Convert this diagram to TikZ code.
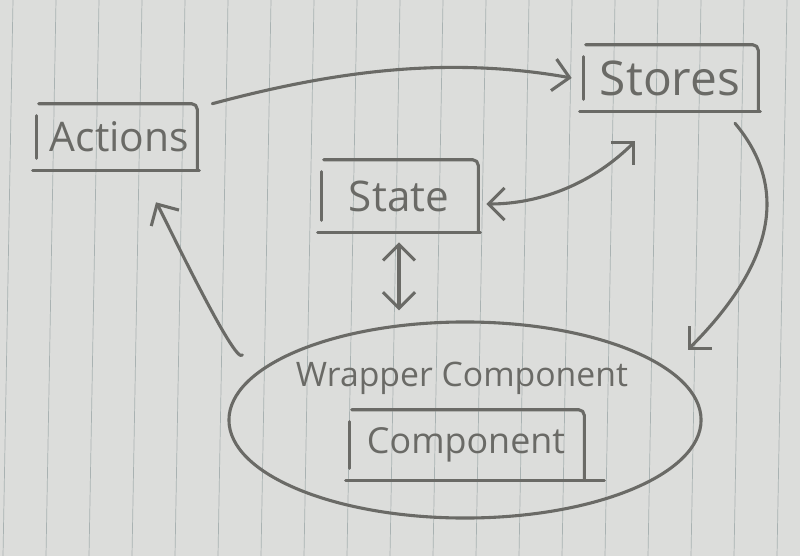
\documentclass[tikz,border=0pt]{standalone}
\usepackage{fontspec}
\setmainfont{Open Sans}
\usepackage{tikz}
\usetikzlibrary{arrows.meta,shapes.geometric}
\definecolor{paper}{HTML}{DCDDDB}
\definecolor{ruling}{HTML}{A9B2B2}
\definecolor{pencil}{HTML}{6A6A66}

\newcommand\sketchbox[1]{%
  \draw[pencil line,rounded corners=4pt]
    ([shift={(4,0)}]#1.north west) -- (#1.north east) -- (#1.south east);
  \draw[pencil line] ([shift={(-2,0)}]#1.south west) -- ([shift={(2,0)}]#1.south east);
  \draw[pencil line] ([shift={(2,12)}]#1.north west) -- ([shift={(2,-12)}]#1.south west);
}

\begin{document}
\begin{tikzpicture}[
    x=0.025cm, y=-0.025cm,
    pencil line/.style={draw=pencil,line width=2.2pt,line cap=round,line join=round},
    label box/.style={text=pencil,inner sep=0pt,minimum height=1.65cm},
    flow/.style={pencil line,-{Straight Barb[length=4mm,width=8mm,line width=2.2pt]}},
    both/.style={pencil line,{Straight Barb[length=4mm,width=8mm,line width=2.2pt]}-{Straight Barb[length=4mm,width=8mm,line width=2.2pt]}},
    wrapper/.style={ellipse,pencil line,minimum width=11.8cm,minimum height=4.9cm,inner sep=0pt}
  ]
    % lined paper
    \useasboundingbox (0,0) rectangle (800,556);
    \fill[paper] (0,0) rectangle (800,556);
    \begin{scope}
      \clip (0,0) rectangle (800,556);
      \foreach \x in {13,56,...,830}
        \draw[ruling,line width=0.5pt] (\x,0) -- ({\x-10},556);
    \end{scope}

    \node[label box,minimum width=4.05cm,font=\fontsize{29}{32}\selectfont] (actions) at (116,137) {\hspace{5pt}Actions};
    \node[label box,minimum width=4.4cm,font=\fontsize{34}{38}\selectfont] (stores) at (670,78) {Stores};
    \node[label box,minimum width=3.95cm,minimum height=1.8cm,font=\fontsize{30}{34}\selectfont] (state) at (399,196) {State};
    \sketchbox{actions}
    \sketchbox{stores}
    \sketchbox{state}

    \node[wrapper] (wrap) at (465,420) {};
    \node[text=pencil,font=\fontsize{24}{28}\selectfont] (wraptitle) at (462,378) {Wrapper Component};
    \node[label box,minimum width=5.9cm,minimum height=1.75cm,font=\fontsize{25.5}{30}\selectfont] (comp) at (466,445) {Component};
    \sketchbox{comp}
    \draw[pencil line] (comp.south east) -- ++(20,0);

    % connectors
    \draw[flow] ([shift={(15,0)}]actions.north east) to[out=15,in=170,looseness=0.9]
      ([shift={(-10,0)}]stores.west);
    \draw[both] ([shift={(-35,30)}]stores.south) to[out=-135,in=0,looseness=0.9]
      ([shift={(8,8)}]state.east);
    \draw[flow] ([shift={(65,12)}]stores.south) to[out=-50,in=45,looseness=1.1]
      ([shift={(-15,-70)}]wrap.east);
    \draw[both] ([shift={(0,10)}]state.south) -- ([shift={(0,-10)}]state.south |- wrap.north);
    \draw[flow] ([shift={(15,-65)}]wrap.west) to[out=-120,in=-60,looseness=0.2]
      ([shift={(40,32)}]actions.south);
  \end{tikzpicture}
\end{document}
